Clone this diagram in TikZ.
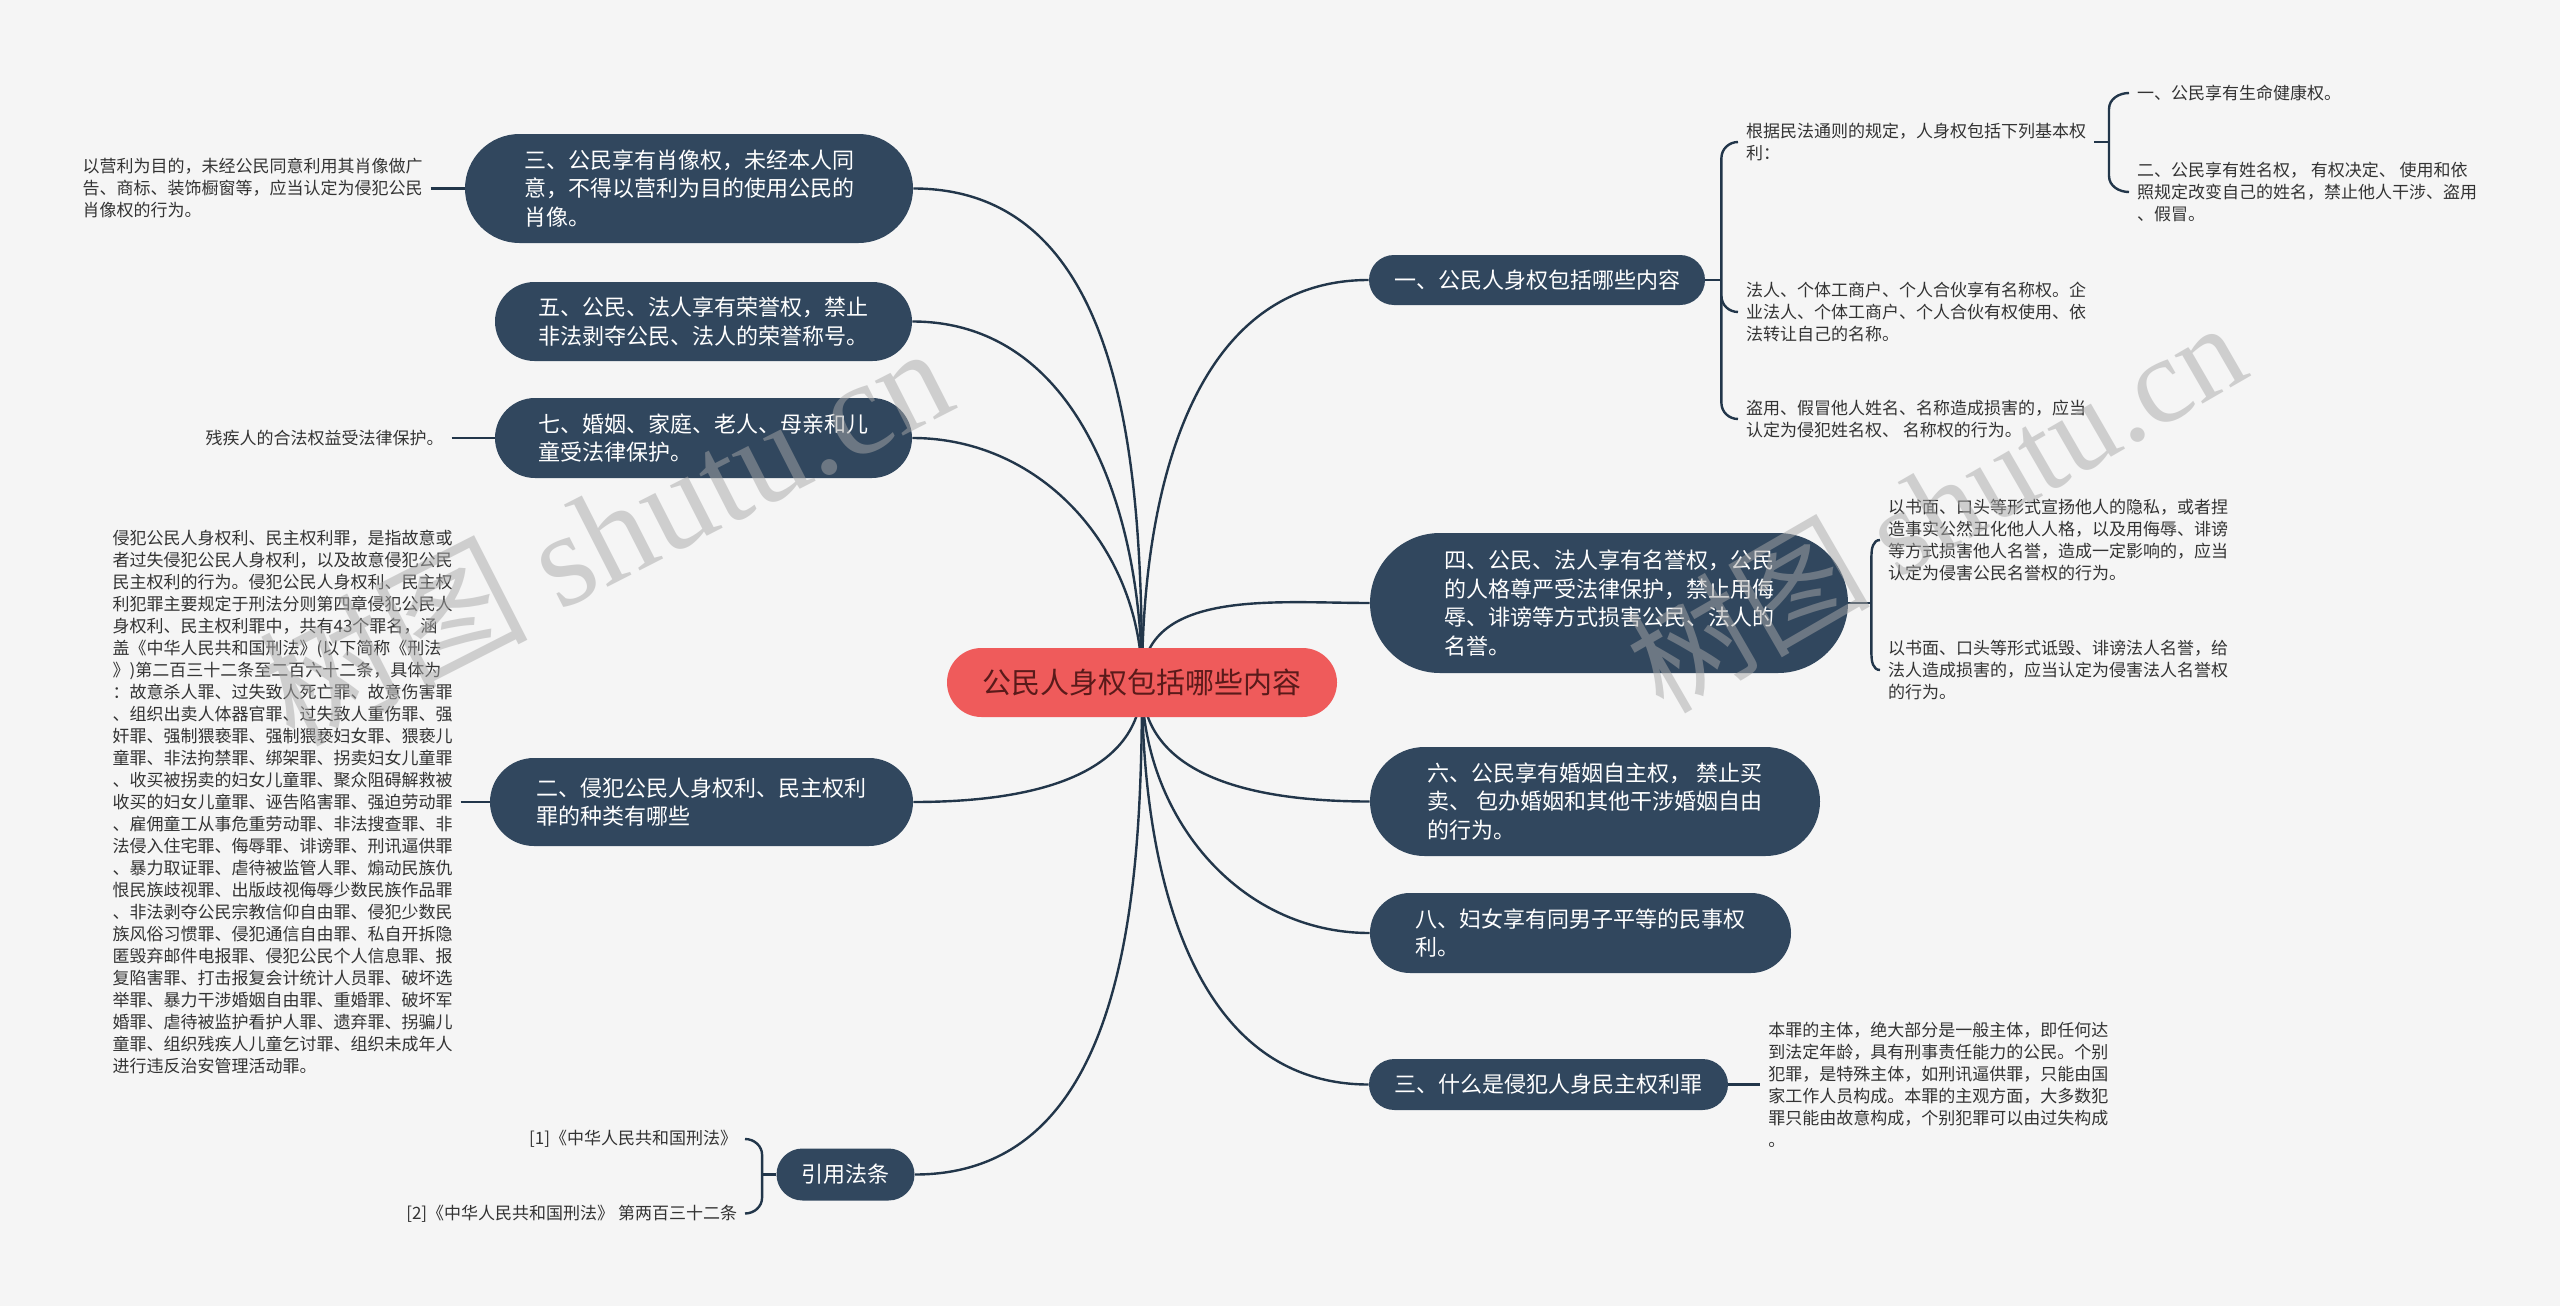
\documentclass[tikz,border=0pt]{standalone}
\usepackage{fontspec}
\setmainfont{Noto Sans CJK SC}
\newfontfamily\wmfont{Liberation Serif}
\usetikzlibrary{shapes.misc,positioning,calc,backgrounds}
\definecolor{bgcol}{HTML}{F5F5F5}
\definecolor{topicblue}{HTML}{31475E}
\definecolor{linecol}{HTML}{22364A}
\definecolor{rootred}{HTML}{EF5B5B}
\definecolor{rootink}{HTML}{5A1A1A}
\definecolor{leafink}{HTML}{333333}
\definecolor{wmgray}{HTML}{A8A8A8}

\begin{document}
\begin{tikzpicture}[
  x=0.5pt, y=-0.5pt,
  topic/.style={rounded rectangle, fill=topicblue, text=white, align=left, inner sep=0pt,
    font=\fontsize{11pt}{14.25pt}\selectfont},
  central/.style={rounded rectangle, fill=rootred, text=rootink, inner sep=0pt,
    minimum width=195pt, minimum height=34.5pt, font=\fontsize{14.5pt}{18pt}\selectfont},
  leaf/.style={text=leafink, align=left, inner sep=0pt, outer xsep=4pt,
    font=\fontsize{8.5pt}{11pt}\selectfont},
  branch/.style={draw=linecol, line width=1.2pt},
  wm/.style={text=wmgray, text opacity=0.5}
]
\useasboundingbox (0,0) rectangle (2560,1306);

% -- central topic
\node[central] (root) at (1142,682.5) {公民人身权包括哪些内容};

% -- left branches
\node[topic, minimum width=224pt, minimum height=54.5pt] (n3) at (689,188.5)
  {三、公民享有肖像权，未经本人同\\意，不得以营利为目的使用公民的\\肖像。};
\node[topic, minimum width=208.5pt, minimum height=39.5pt] (n5) at (703.5,321.5)
  {五、公民、法人享有荣誉权，禁止\\非法剥夺公民、法人的荣誉称号。};
\node[topic, minimum width=208.5pt, minimum height=40pt] (n7) at (703.5,438)
  {七、婚姻、家庭、老人、母亲和儿\\童受法律保护。};
\node[topic, minimum width=211.5pt, minimum height=44pt] (n2) at (701.5,802)
  {二、侵犯公民人身权利、民主权利\\罪的种类有哪些};
\node[topic, minimum width=69pt, minimum height=26pt] (nyy) at (845.5,1174.5) {引用法条};

% -- right branches
\node[topic, minimum width=168pt, minimum height=25pt] (n1) at (1537,280) {一、公民人身权包括哪些内容};
\node[topic, minimum width=239pt, minimum height=70pt] (n4) at (1609,603)
  {四、公民、法人享有名誉权，公民\\的人格尊严受法律保护，禁止用侮\\辱、诽谤等方式损害公民、法人的\\名誉。};
\node[topic, minimum width=225pt, minimum height=54.5pt] (n6) at (1595,801.5)
  {六、公民享有婚姻自主权， 禁止买\\卖、 包办婚姻和其他干涉婚姻自由\\的行为。};
\node[topic, minimum width=210.5pt, minimum height=40pt] (n8) at (1580.5,933)
  {八、妇女享有同男子平等的民事权\\利。};
\node[topic, minimum width=179.5pt, minimum height=25.5pt] (nz) at (1548.5,1084.5) {三、什么是侵犯人身民主权利罪};

% -- leaves on the left
\node[leaf, left=17pt of n3] (l3)
  {以营利为目的，未经公民同意利用其肖像做广\\告、商标、装饰橱窗等，应当认定为侵犯公民\\肖像权的行为。};
\node[leaf, left=21.5pt of n7] (l7) {残疾人的合法权益受法律保护。};
\node[leaf, left=14.5pt of n2] (l2)
  {侵犯公民人身权利、民主权利罪，是指故意或\\者过失侵犯公民人身权利，以及故意侵犯公民\\民主权利的行为。侵犯公民人身权利、民主权\\利犯罪主要规定于刑法分则第四章侵犯公民人\\身权利、民主权利罪中，共有43个罪名，涵\\盖《中华人民共和国刑法》(以下简称《刑法\\》)第二百三十二条至二百六十二条，具体为\\：故意杀人罪、过失致人死亡罪、故意伤害罪\\、组织出卖人体器官罪、过失致人重伤罪、强\\奸罪、强制猥亵罪、强制猥亵妇女罪、猥亵儿\\童罪、非法拘禁罪、绑架罪、拐卖妇女儿童罪\\、收买被拐卖的妇女儿童罪、聚众阻碍解救被\\收买的妇女儿童罪、诬告陷害罪、强迫劳动罪\\、雇佣童工从事危重劳动罪、非法搜查罪、非\\法侵入住宅罪、侮辱罪、诽谤罪、刑讯逼供罪\\、暴力取证罪、虐待被监管人罪、煽动民族仇\\恨民族歧视罪、出版歧视侮辱少数民族作品罪\\、非法剥夺公民宗教信仰自由罪、侵犯少数民\\族风俗习惯罪、侵犯通信自由罪、私自开拆隐\\匿毁弃邮件电报罪、侵犯公民个人信息罪、报\\复陷害罪、打击报复会计统计人员罪、破坏选\\举罪、暴力干涉婚姻自由罪、重婚罪、破坏军\\婚罪、虐待被监护看护人罪、遗弃罪、拐骗儿\\童罪、组织残疾人儿童乞讨罪、组织未成年人\\进行违反治安管理活动罪。};
\coordinate (jyy) at ($(nyy.west)+(-14,0)$);
\node[leaf, anchor=east] (lyy1) at (745,1139) {[1]《中华人民共和国刑法》};
\node[leaf, anchor=east] (lyy2) at (745,1213.5) {[2]《中华人民共和国刑法》 第两百三十二条};

% -- leaves on the right
\coordinate (j1) at ($(n1.east)+(16,0)$);
\node[leaf, anchor=west] (l1a) at (1738,142) {根据民法通则的规定，人身权包括下列基本权\\利：};
\node[leaf, anchor=west] (l1b) at (1738,312)
  {法人、个体工商户、个人合伙享有名称权。企\\业法人、个体工商户、个人合伙有权使用、依\\法转让自己的名称。};
\node[leaf, anchor=west] (l1c) at (1738,419) {盗用、假冒他人姓名、名称造成损害的，应当\\认定为侵犯姓名权、 名称权的行为。};
\coordinate (j1a) at ($(l1a.east)+(15,0)$);
\node[leaf, anchor=west] (l1a1) at (2129,93) {一、公民享有生命健康权。};
\node[leaf, anchor=west] (l1a2) at (2129,192)
  {二、公民享有姓名权， 有权决定、 使用和依\\照规定改变自己的姓名，禁止他人干涉、盗用\\、假冒。};
\coordinate (j4) at ($(n4.east)+(23,0)$);
\node[leaf, anchor=west] (l4a) at (1880,540)
  {以书面、口头等形式宣扬他人的隐私，或者捏\\造事实公然丑化他人人格，以及用侮辱、诽谤\\等方式损害他人名誉，造成一定影响的，应当\\认定为侵害公民名誉权的行为。};
\node[leaf, anchor=west] (l4b) at (1880,670)
  {以书面、口头等形式诋毁、诽谤法人名誉，给\\法人造成损害的，应当认定为侵害法人名誉权\\的行为。};
\node[leaf, right=16pt of nz] (lz)
  {本罪的主体，绝大部分是一般主体，即任何达\\到法定年龄，具有刑事责任能力的公民。个别\\犯罪，是特殊主体，如刑讯逼供罪，只能由国\\家工作人员构成。本罪的主观方面，大多数犯\\罪只能由故意构成，个别犯罪可以由过失构成\\。};

\begin{scope}[on background layer]
\fill[bgcol] (0,0) rectangle (2560,1306);
% -- curves out of the central topic
\foreach \t in {n3,n5,n7}
  \draw[branch] (root.center) to[out=90,in=0] (\t.east);
\foreach \t in {n1,n4}
  \draw[branch] (root.center) to[out=90,in=180] (\t.west);
\foreach \t in {n2,nyy}
  \draw[branch] (root.center) to[out=270,in=0] (\t.east);
\foreach \t in {n6,n8,nz}
  \draw[branch] (root.center) to[out=270,in=180] (\t.west);

% -- straight stubs to single leaves
\draw[branch] (l3.east) -- (n3.west);
\draw[branch] (l7.east) -- (n7.west);
\draw[branch] (l2.east) -- (n2.west);
\draw[branch] (nz.east) -- (lz.west);

% -- brackets
\draw[branch] (nyy.west) -- (jyy);
\draw[branch] (lyy1.east) to[out=0,in=90] ($(jyy |- lyy1.east)+(0,16)$)
  -- ($(jyy |- lyy2.east)+(0,-16)$) to[out=270,in=0] (lyy2.east);
\draw[branch] (n1.east) -- (j1);
\draw[branch] (l1a.west) to[out=180,in=90] ($(j1 |- l1a.west)+(0,16)$)
  -- ($(j1 |- l1c.west)+(0,-16)$) to[out=270,in=180] (l1c.west);
\draw[branch] ($(j1 |- l1b.west)+(0,-16)$) to[out=270,in=180] (l1b.west);
\draw[branch] (l1a.east) -- (j1a);
\draw[branch] (l1a1.west) to[out=180,in=90] ($(j1a |- l1a1.west)+(0,16)$)
  -- ($(j1a |- l1a2.west)+(0,-16)$) to[out=270,in=180] (l1a2.west);
\draw[branch] (n4.east) -- (j4);
\draw[branch] (l4a.west) to[out=180,in=90] ($(j4 |- l4a.west)+(0,16)$)
  -- ($(j4 |- l4b.west)+(0,-16)$) to[out=270,in=180] (l4b.west);
\end{scope}

% -- watermarks
\node[wm, rotate=27, font=\fontsize{67pt}{70pt}\selectfont] (wmleft) at (604,532) {树图 {\wmfont shutu.cn}};
\node[wm, rotate=30, font=\fontsize{61pt}{64pt}\selectfont] (wmright) at (1935,505) {树图 {\wmfont shutu.cn}};
\end{tikzpicture}
\end{document}
